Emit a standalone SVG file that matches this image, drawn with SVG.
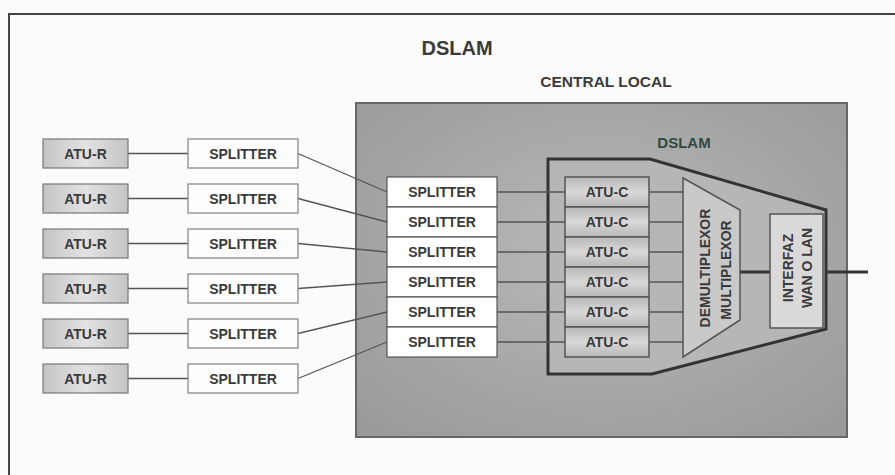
<svg xmlns="http://www.w3.org/2000/svg" width="895" height="475" viewBox="0 0 895 475">
<defs>
<style>
text{font-family:"Liberation Sans",Arial,sans-serif;font-weight:bold;fill:#3a3a3a;}
.lbl{font-size:14px;text-anchor:middle;}
.atur{fill:url(#gAtu);stroke:#777;stroke-width:1.2;}
.spl{fill:#fdfdfd;stroke:#808080;stroke-width:1.2;}
.ispl{fill:#ffffff;stroke:#555;stroke-width:1.2;}
.atuc{fill:url(#gAtuc);stroke:#555;stroke-width:1.5;}
.ln{stroke:#555;stroke-width:1.3;fill:none;}
.thick{stroke:#333;stroke-width:3;fill:none;}
</style>
<linearGradient id="gAtu" x1="0" y1="0" x2="1" y2="0">
<stop offset="0" stop-color="#c4c4c4"/><stop offset="0.5" stop-color="#e2e2e2"/><stop offset="1" stop-color="#c4c4c4"/>
</linearGradient>
<linearGradient id="gAtuc" x1="0" y1="0" x2="0" y2="1">
<stop offset="0" stop-color="#b8b8b8"/><stop offset="0.5" stop-color="#d8d8d8"/><stop offset="1" stop-color="#b8b8b8"/>
</linearGradient>
<radialGradient id="gBig" cx="0.5" cy="0.45" r="0.7">
<stop offset="0" stop-color="#b9b9b9"/><stop offset="1" stop-color="#9a9a9a"/>
</radialGradient>
</defs>
<rect x="0" y="0" width="895" height="475" fill="#fbfbfb"/>
<g id="frame">
<path d="M9,475 V14 H895" stroke="#444" stroke-width="2" fill="none"/>
</g>
<text x="457" y="55" font-size="20" text-anchor="middle">DSLAM</text>
<text x="606" y="87" font-size="15.5" text-anchor="middle">CENTRAL LOCAL</text>

<g id="central-local">
<rect x="356" y="103" width="491" height="334" fill="url(#gBig)" stroke="#666" stroke-width="2"/>
</g>
<g id="dslam">
<polygon points="548,159 650,159 826,210 826,329 652,374 548,374" fill="#b6b6b6" stroke="#333" stroke-width="3"/>
<text x="684" y="148" font-size="15" text-anchor="middle" style="fill:#2f4a3f">DSLAM</text>
</g>

<g id="connectors">
<g class="ln">
<line x1="128" y1="153.5" x2="188" y2="153.5"/>
<line x1="128" y1="198.5" x2="188" y2="198.5"/>
<line x1="128" y1="243.5" x2="188" y2="243.5"/>
<line x1="128" y1="288.5" x2="188" y2="288.5"/>
<line x1="128" y1="333.5" x2="188" y2="333.5"/>
<line x1="128" y1="378.5" x2="188" y2="378.5"/>
<line x1="298" y1="153.5" x2="387" y2="192"/>
<line x1="298" y1="198.5" x2="387" y2="222"/>
<line x1="298" y1="243.5" x2="387" y2="252"/>
<line x1="298" y1="288.5" x2="387" y2="282"/>
<line x1="298" y1="333.5" x2="387" y2="312"/>
<line x1="298" y1="378.5" x2="387" y2="342"/>
<line x1="497" y1="192" x2="565" y2="192"/>
<line x1="497" y1="222" x2="565" y2="222"/>
<line x1="497" y1="252" x2="565" y2="252"/>
<line x1="497" y1="282" x2="565" y2="282"/>
<line x1="497" y1="312" x2="565" y2="312"/>
<line x1="497" y1="342" x2="565" y2="342"/>
<line x1="649" y1="192" x2="683" y2="192"/>
<line x1="649" y1="222" x2="683" y2="222"/>
<line x1="649" y1="252" x2="683" y2="252"/>
<line x1="649" y1="282" x2="683" y2="282"/>
<line x1="649" y1="312" x2="683" y2="312"/>
<line x1="649" y1="342" x2="683" y2="342"/>
</g>
<line class="thick" x1="740" y1="272" x2="770" y2="272"/>
<line class="thick" x1="826" y1="272" x2="868" y2="272"/>
</g>

<g id="atu-r">
<rect class="atur" x="43" y="139" width="85" height="29"/><text class="lbl" x="85.5" y="159">ATU-R</text>
<rect class="atur" x="43" y="184" width="85" height="29"/><text class="lbl" x="85.5" y="204">ATU-R</text>
<rect class="atur" x="43" y="229" width="85" height="29"/><text class="lbl" x="85.5" y="249">ATU-R</text>
<rect class="atur" x="43" y="274" width="85" height="29"/><text class="lbl" x="85.5" y="294">ATU-R</text>
<rect class="atur" x="43" y="319" width="85" height="29"/><text class="lbl" x="85.5" y="339">ATU-R</text>
<rect class="atur" x="43" y="364" width="85" height="29"/><text class="lbl" x="85.5" y="384">ATU-R</text>
</g>
<g id="splitters-remote">
<rect class="spl" x="188" y="139" width="110" height="29"/><text class="lbl" x="243" y="159">SPLITTER</text>
<rect class="spl" x="188" y="184" width="110" height="29"/><text class="lbl" x="243" y="204">SPLITTER</text>
<rect class="spl" x="188" y="229" width="110" height="29"/><text class="lbl" x="243" y="249">SPLITTER</text>
<rect class="spl" x="188" y="274" width="110" height="29"/><text class="lbl" x="243" y="294">SPLITTER</text>
<rect class="spl" x="188" y="319" width="110" height="29"/><text class="lbl" x="243" y="339">SPLITTER</text>
<rect class="spl" x="188" y="364" width="110" height="29"/><text class="lbl" x="243" y="384">SPLITTER</text>
</g>
<g id="splitters-central">
<rect class="ispl" x="387" y="177" width="110" height="30"/><text class="lbl" x="442" y="197">SPLITTER</text>
<rect class="ispl" x="387" y="207" width="110" height="30"/><text class="lbl" x="442" y="227">SPLITTER</text>
<rect class="ispl" x="387" y="237" width="110" height="30"/><text class="lbl" x="442" y="257">SPLITTER</text>
<rect class="ispl" x="387" y="267" width="110" height="30"/><text class="lbl" x="442" y="287">SPLITTER</text>
<rect class="ispl" x="387" y="297" width="110" height="30"/><text class="lbl" x="442" y="317">SPLITTER</text>
<rect class="ispl" x="387" y="327" width="110" height="30"/><text class="lbl" x="442" y="347">SPLITTER</text>
</g>
<g id="atu-c">
<rect class="atuc" x="565" y="177" width="84" height="30"/><text class="lbl" x="607" y="197">ATU-C</text>
<rect class="atuc" x="565" y="207" width="84" height="30"/><text class="lbl" x="607" y="227">ATU-C</text>
<rect class="atuc" x="565" y="237" width="84" height="30"/><text class="lbl" x="607" y="257">ATU-C</text>
<rect class="atuc" x="565" y="267" width="84" height="30"/><text class="lbl" x="607" y="287">ATU-C</text>
<rect class="atuc" x="565" y="297" width="84" height="30"/><text class="lbl" x="607" y="317">ATU-C</text>
<rect class="atuc" x="565" y="327" width="84" height="30"/><text class="lbl" x="607" y="347">ATU-C</text>
</g>
<g id="demux">
<polygon points="683,178 740,210 740,320 683,357" fill="#c9c9c9" stroke="#555" stroke-width="1.5"/>
<text class="lbl" font-size="15.5" transform="translate(710,268) rotate(-90)" x="0" y="0">DEMULTIPLEXOR</text>
<text class="lbl" font-size="15.5" transform="translate(731,270) rotate(-90)" x="0" y="0">MULTIPLEXOR</text>
</g>
<g id="interfaz">
<rect x="770" y="214" width="53" height="114" fill="#d9d9d9" stroke="#555" stroke-width="1.5"/>
<text class="lbl" font-size="14.5" transform="translate(793,268) rotate(-90)" x="0" y="0">INTERFAZ</text>
<text class="lbl" font-size="14.5" transform="translate(812,268) rotate(-90)" x="0" y="0">WAN O LAN</text>
</g>
</svg>
